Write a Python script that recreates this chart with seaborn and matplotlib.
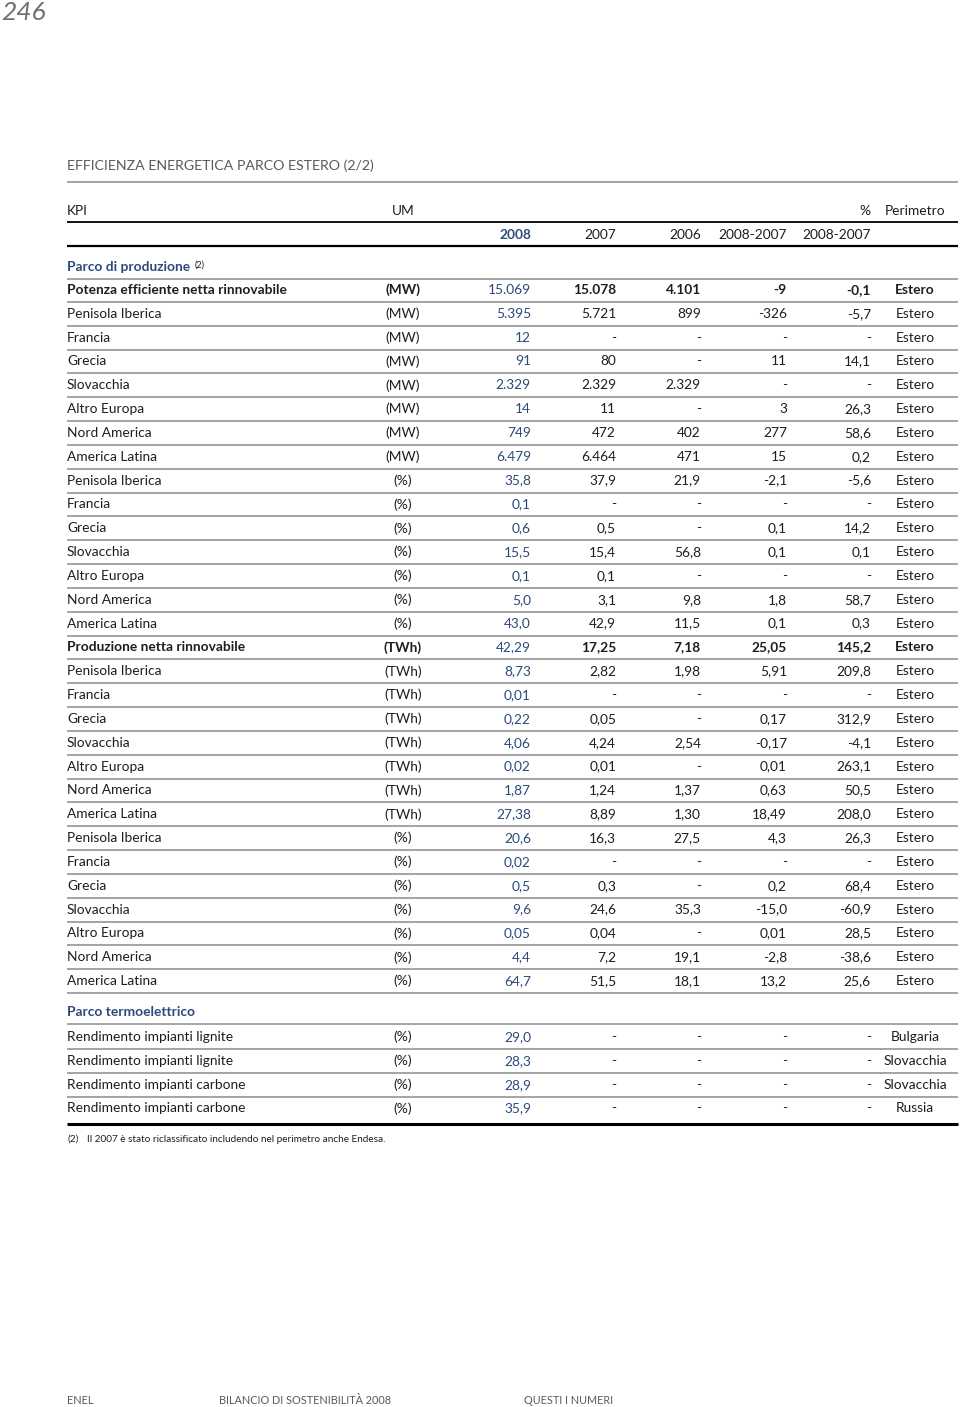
import matplotlib
matplotlib.use('Agg')
import matplotlib.pyplot as plt
import seaborn as sns

sns.set_theme(style="white")
plt.rcParams['font.family'] = ['Lato', 'DejaVu Sans']

# DATI DELLA TABELLA
kpi = ["Potenza efficiente netta rinnovabile", "Penisola Iberica", "Francia", "Grecia",
       "Slovacchia", "Altro Europa", "Nord America", "America Latina",
       "Penisola Iberica", "Francia", "Grecia", "Slovacchia", "Altro Europa",
       "Nord America", "America Latina",
       "Produzione netta rinnovabile", "Penisola Iberica", "Francia", "Grecia",
       "Slovacchia", "Altro Europa", "Nord America", "America Latina",
       "Penisola Iberica", "Francia", "Grecia", "Slovacchia", "Altro Europa",
       "Nord America", "America Latina"]
um = ["(MW)"] * 8 + ["(%)"] * 7 + ["(TWh)"] * 8 + ["(%)"] * 7
v2008 = ["15.069", "5.395", "12", "91", "2.329", "14", "749", "6.479",
         "35,8", "0,1", "0,6", "15,5", "0,1", "5,0", "43,0",
         "42,29", "8,73", "0,01", "0,22", "4,06", "0,02", "1,87", "27,38",
         "20,6", "0,02", "0,5", "9,6", "0,05", "4,4", "64,7"]
v2007 = ["15.078", "5.721", "-", "80", "2.329", "11", "472", "6.464",
         "37,9", "-", "0,5", "15,4", "0,1", "3,1", "42,9",
         "17,25", "2,82", "-", "0,05", "4,24", "0,01", "1,24", "8,89",
         "16,3", "-", "0,3", "24,6", "0,04", "7,2", "51,5"]
v2006 = ["4.101", "899", "-", "-", "2.329", "-", "402", "471",
         "21,9", "-", "-", "56,8", "-", "9,8", "11,5",
         "7,18", "1,98", "-", "-", "2,54", "-", "1,37", "1,30",
         "27,5", "-", "-", "35,3", "-", "19,1", "18,1"]
diff = ["-9", "-326", "-", "11", "-", "3", "277", "15",
        "-2,1", "-", "0,1", "0,1", "-", "1,8", "0,1",
        "25,05", "5,91", "-", "0,17", "-0,17", "0,01", "0,63", "18,49",
        "4,3", "-", "0,2", "-15,0", "0,01", "-2,8", "13,2"]
pct = ["-0,1", "-5,7", "-", "14,1", "-", "26,3", "58,6", "0,2",
       "-5,6", "-", "14,2", "0,1", "-", "58,7", "0,3",
       "145,2", "209,8", "-", "312,9", "-4,1", "263,1", "50,5", "208,0",
       "26,3", "-", "68,4", "-60,9", "28,5", "-38,6", "25,6"]
perimetro = ["Estero"] * 30
bold_rows = [0, 15]

kpi_t = ["Rendimento impianti lignite", "Rendimento impianti lignite",
         "Rendimento impianti carbone", "Rendimento impianti carbone"]
um_t = ["(%)"] * 4
v2008_t = ["29,0", "28,3", "28,9", "35,9"]
v2007_t = ["-"] * 4
v2006_t = ["-"] * 4
diff_t = ["-"] * 4
pct_t = ["-"] * 4
perimetro_t = ["Bulgaria", "Slovacchia", "Slovacchia", "Russia"]

# LAYOUT
BLUE = '#2d4a7c'
TXT = '#1e1e1e'
GREY = '#5a5a5a'
LINE = '#8c8c8c'
X0, X1 = 67, 958
X_UM = 403
X_COLS = [531, 616, 701, 787, 871]
X_PER = 915
FS = 9.9
STEP = 23.83

fig = plt.figure(figsize=(9.6, 14.07), dpi=100)
ax = fig.add_axes([0, 0, 1, 1])
ax.set_xlim(0, 960)
ax.set_ylim(1407, 0)
ax.axis('off')

ax.text(1, 12, "246", fontsize=19, color='#707070', style='italic',
        fontweight='normal', va='center', ha='left')

ax.text(X0, 166, "EFFICIENZA ENERGETICA PARCO ESTERO (2/2)", fontsize=10.2, color=GREY,
        va='center', ha='left')
ax.hlines(181.5, X0, X1, color=LINE, lw=1.1)

# intestazione
ax.text(X0, 211, "KPI", fontsize=FS, color=TXT, va='center')
ax.text(X_UM, 211, "UM", fontsize=FS, color=TXT, va='center', ha='center')
ax.text(X_COLS[4], 211, "%", fontsize=FS, color=TXT, va='center', ha='right')
ax.text(X_PER, 211, "Perimetro", fontsize=FS, color=TXT, va='center', ha='center')
ax.hlines(222, X0, X1, color='black', lw=1.3)
headers = ["2008", "2007", "2006", "2008-2007", "2008-2007"]
for j, h in enumerate(headers):
    ax.text(X_COLS[j], 235, h, fontsize=FS, va='center', ha='right',
            color=BLUE if j == 0 else TXT, fontweight='bold' if j == 0 else 'normal')
ax.hlines(246, X0, X1, color='black', lw=1.6)


def section(y, label):
    return ax.text(X0, y, label, fontsize=FS, color=BLUE, fontweight='bold', va='center')


def rows(y_start, names, ums, cols, pers, bold=()):
    for i, name in enumerate(names):
        y = y_start + i * STEP
        w = 'bold' if i in bold else 'normal'
        ax.text(X0, y, name, fontsize=FS, color=TXT, fontweight=w, va='center')
        ax.text(X_UM, y, ums[i], fontsize=FS, color=TXT, fontweight=w, va='center', ha='center')
        for j, col in enumerate(cols):
            ax.text(X_COLS[j], y, col[i], fontsize=FS, va='center', ha='right',
                    color=BLUE if j == 0 else TXT, fontweight='normal' if j == 0 else w)
        ax.text(X_PER, y, pers[i], fontsize=FS, color=TXT, fontweight=w, va='center', ha='center')


# Parco di produzione
t = section(267, "Parco di produzione")
ax.annotate("(2)", xy=(1, 0.5), xycoords=t, xytext=(3, 1.5), textcoords='offset points',
            fontsize=6.5, color=TXT, va='center')
ax.hlines(279, X0, X1, color=LINE, lw=1.1)
rows(290, kpi, um, [v2008, v2007, v2006, diff, pct], perimetro, bold_rows)
for i in range(len(kpi)):
    ax.hlines(290 + i * STEP + 12, X0, X1, color=LINE, lw=1.1)

# Parco termoelettrico
section(1012, "Parco termoelettrico")
ax.hlines(1024, X0, X1, color=LINE, lw=1.1)
rows(1037, kpi_t, um_t, [v2008_t, v2007_t, v2006_t, diff_t, pct_t], perimetro_t)
for i in range(len(kpi_t) - 1):
    ax.hlines(1037 + i * STEP + 12, X0, X1, color=LINE, lw=1.1)
ax.hlines(1124, X0, X1, color='black', lw=2.2)

# nota
ax.text(X0, 1139, "(2)", fontsize=7.2, color=TXT, va='center')
ax.text(87, 1139, "Il 2007 è stato riclassificato includendo nel perimetro anche Endesa.",
        fontsize=7.2, color=TXT, va='center')

# piè di pagina
for x, s in [(67, "ENEL"), (219, "BILANCIO DI SOSTENIBILITÀ 2008"), (524, "QUESTI I NUMERI")]:
    ax.text(x, 1400, s, fontsize=7.8, color=GREY, va='center')

plt.savefig('out.png', dpi=100)
